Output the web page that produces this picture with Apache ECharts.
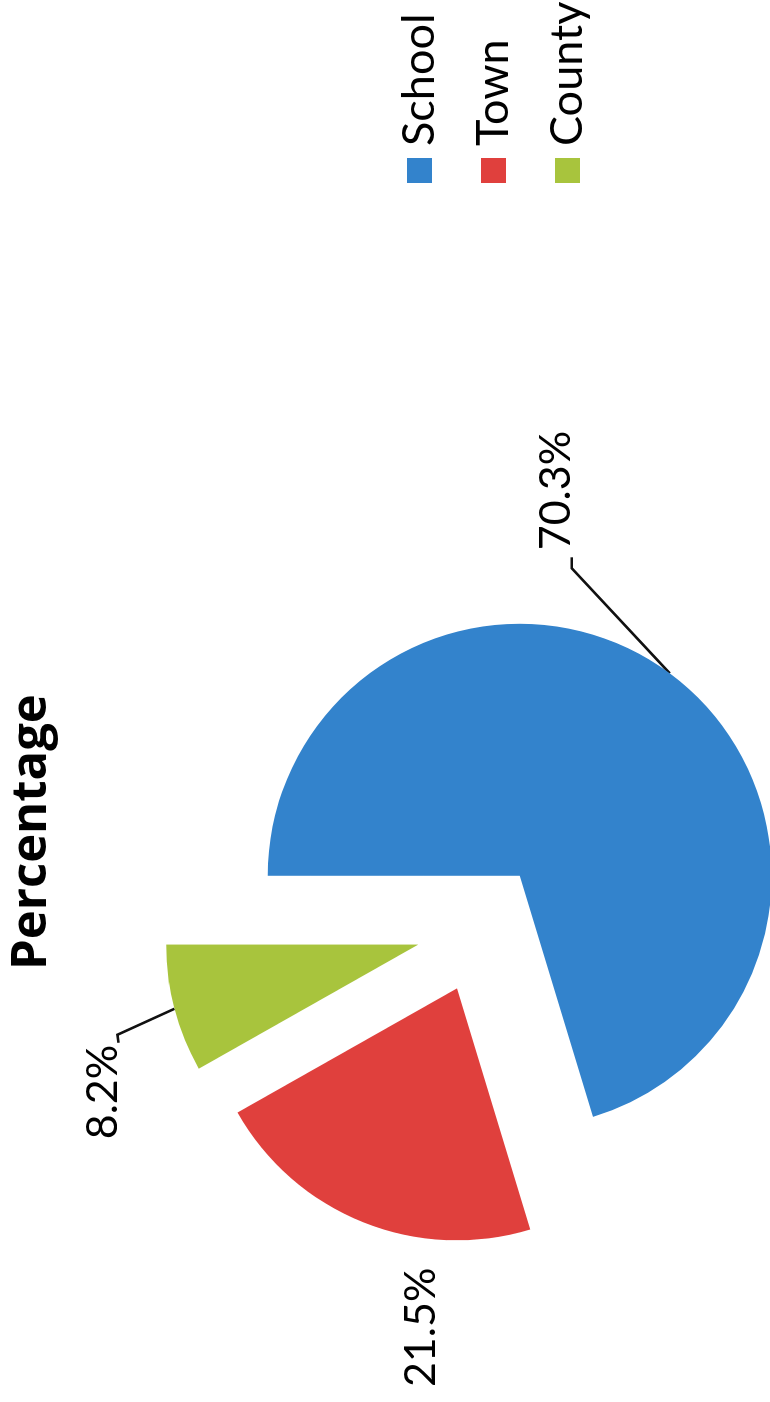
<!DOCTYPE html>
<html><head><meta charset="utf-8">
<script src="https://cdn.jsdelivr.net/npm/echarts@6/dist/echarts.min.js"></script>
<style>
html,body{margin:0;padding:0;background:#fff;overflow:hidden;width:770px;height:1402px;}
#wrap{position:absolute;left:0;top:0;width:1402px;height:770px;transform-origin:0 0;transform:translate(0,1402px) rotate(-90deg);}
</style></head><body>
<div id="wrap"></div>
<script>
const categories = ['School', 'Town', 'County'];
const values = [70.3, 21.5, 8.2];
const colors = ['#3383cc', '#e0403d', '#a8c43d'];
const titleText = 'Percentage';

const CX = 474, CY = 481, R = 252, OFF = 65;
const FONT = 'Lato, "Open Sans", sans-serif';
// label placement relative to each slice's outer mid-arc point (layout only)
const labelPlace = [
  {dx: 123, dy: -114, align: 'left', line: [[105, -98], [116, -98]]},
  {dx: -105, dy: 58, align: 'center', line: null},
  {dx: -36, dy: -71, align: 'right', line: [[-26, -57], [-34, -56]]}
];
const total = values.reduce((a, b) => a + b, 0);
function anchor(i) {
  let cum = 0;
  for (let k = 0; k < i; k++) cum += values[k];
  const m = (cum + values[i] / 2) / total * 2 * Math.PI;
  const dx = Math.sin(m), dy = -Math.cos(m);
  return [CX + (R + OFF) * dx, CY + (R + OFF) * dy];
}

const graphics = [];
values.forEach((v, i) => {
  const a = anchor(i);
  const lp = labelPlace[i];
  if (lp.line) {
    graphics.push({
      type: 'polyline', silent: true,
      shape: {points: [a, [a[0] + lp.line[0][0], a[1] + lp.line[0][1]], [a[0] + lp.line[1][0], a[1] + lp.line[1][1]]]},
      style: {stroke: '#111', lineWidth: 2.6, fill: null}
    });
  }
  graphics.push({
    type: 'text', silent: true,
    x: a[0] + lp.dx, y: a[1] + lp.dy,
    style: {text: v.toFixed(1) + '%', fontFamily: FONT, fontSize: 43, fill: '#000', textAlign: lp.align, textVerticalAlign: 'middle'}
  });
});

const chart = echarts.init(document.getElementById('wrap'), null, {width: 1402, height: 770, renderer: 'canvas'});
chart.setOption({
  animation: false,
  backgroundColor: '#fff',
  title: {
    text: titleText, left: 427, top: 3,
    textStyle: {fontFamily: '"Open Sans", Lato, sans-serif', fontSize: 49, fontWeight: 'bold', color: '#000'}
  },
  legend: {
    orient: 'vertical', left: 1214, top: 390,
    itemWidth: 25, itemHeight: 25, itemGap: 25, icon: 'rect',
    selectedMode: false,
    textStyle: {fontFamily: FONT, fontSize: 45, color: '#000', lineHeight: 49, padding: [0, 0, 0, 7]},
    data: categories
  },
  graphic: graphics,
  series: [{
    type: 'pie',
    center: [CX, CY],
    radius: R,
    startAngle: 90,
    clockwise: true,
    selectedMode: 'multiple',
    selectedOffset: OFF,
    emphasis: {disabled: true},
    label: {show: false},
    labelLine: {show: false},
    data: categories.map((c, i) => ({
      name: c, value: values[i], selected: true,
      itemStyle: {color: colors[i]},
      select: {itemStyle: {color: colors[i]}}
    }))
  }]
});
</script>
</body></html>
